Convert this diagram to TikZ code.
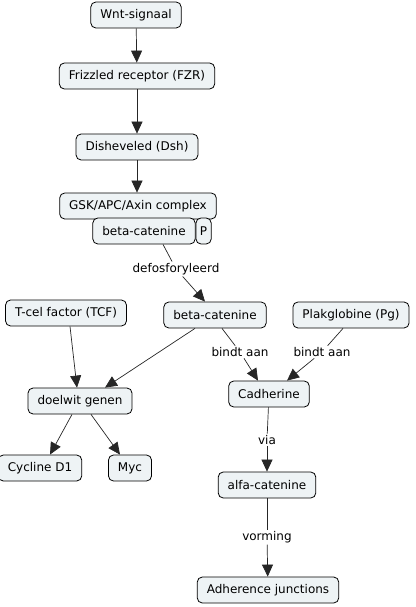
\documentclass[tikz,border=0pt]{standalone}
\usepackage{fontspec}
\setmainfont{DejaVu Sans}
\usetikzlibrary{arrows.meta}
\definecolor{boxfill}{HTML}{EEF3F5}
\tikzset{
  concept/.style={draw=black, line width=0.8pt, fill=boxfill, rounded corners=5pt,
    minimum height=26pt, inner xsep=9.5pt, inner ysep=2pt, font=\fontsize{12}{14}\selectfont},
  lbl/.style={inner sep=1.5pt, fill=white, font=\fontsize{12}{14}\selectfont},
  link/.style={line width=0.7pt, draw=black!85},
  arr/.style={link, -{Triangle[length=12pt,width=11pt]}}
}
\begin{document}
\begin{tikzpicture}[x=1pt,y=-1pt]
\useasboundingbox (0,0) rectangle (415,607);
\node[concept] (wnt) at (136,15) {Wnt-signaal};
\node[concept] (fzr) at (137,76) {Frizzled receptor (FZR)};
\node[concept] (dsh) at (137,147) {Disheveled (Dsh)};
\node[concept] (gsk) at (138,206) {GSK/APC/Axin complex};
\node[concept] (bc1) at (144,231) {beta-catenine};
\node[concept, inner xsep=4pt, anchor=west] (p) at (bc1.east) {P};
\node[lbl] (defo) at (176,269) {defosforyleerd};
\node[concept] (bc2) at (215,315) {beta-catenine};
\node[concept] (tcf) at (66,313) {T-cel factor (TCF)};
\node[concept] (pg) at (351,315) {Plakglobine (Pg)};
\node[concept] (dg) at (80,401) {doelwit genen};
\node[concept] (cad) at (269,394) {Cadherine};
\node[concept] (cyc) at (40,468) {Cycline D1};
\node[concept] (myc) at (130,468) {Myc};
\node[concept] (alfa) at (267,485) {alfa-catenine};
\node[concept] (adh) at (268,590) {Adherence junctions};
\node[lbl] (ba1) at (240,352) {bindt aan};
\node[lbl] (ba2) at (322,352) {bindt aan};
\node[lbl] (via) at (267,440) {via};
\node[lbl] (vorm) at (267,537) {vorming};

\draw[arr] (wnt) -- (fzr);
\draw[arr] (fzr) -- (dsh);
\draw[arr] (dsh) -- (gsk.north -| dsh);
\draw[link] ([xshift=19pt]bc1.south) -- (defo);
\draw[arr] (defo) -- ([xshift=-10pt]bc2.north);
\draw[arr] ([xshift=4pt]tcf.south) -- ([xshift=-3pt]dg.north);
\draw[arr] ([xshift=-20pt]bc2.south) -- ([xshift=25pt]dg.north);
\draw[link] ([xshift=7pt]bc2.south) -- (ba1);
\draw[arr] (ba1) -- ([xshift=-11pt]cad.north);
\draw[link] ([xshift=-8pt]pg.south) -- (ba2);
\draw[arr] (ba2) -- ([xshift=18pt]cad.north);
\draw[arr] ([xshift=-8pt]dg.south) -- ([xshift=10pt]cyc.north);
\draw[arr] ([xshift=11pt]dg.south) -- ([xshift=-10pt]myc.north);
\draw[link] (cad) -- (via);
\draw[arr] (via) -- (alfa);
\draw[link] (alfa) -- (vorm);
\draw[arr] (vorm) -- (adh);
\end{tikzpicture}
\end{document}
